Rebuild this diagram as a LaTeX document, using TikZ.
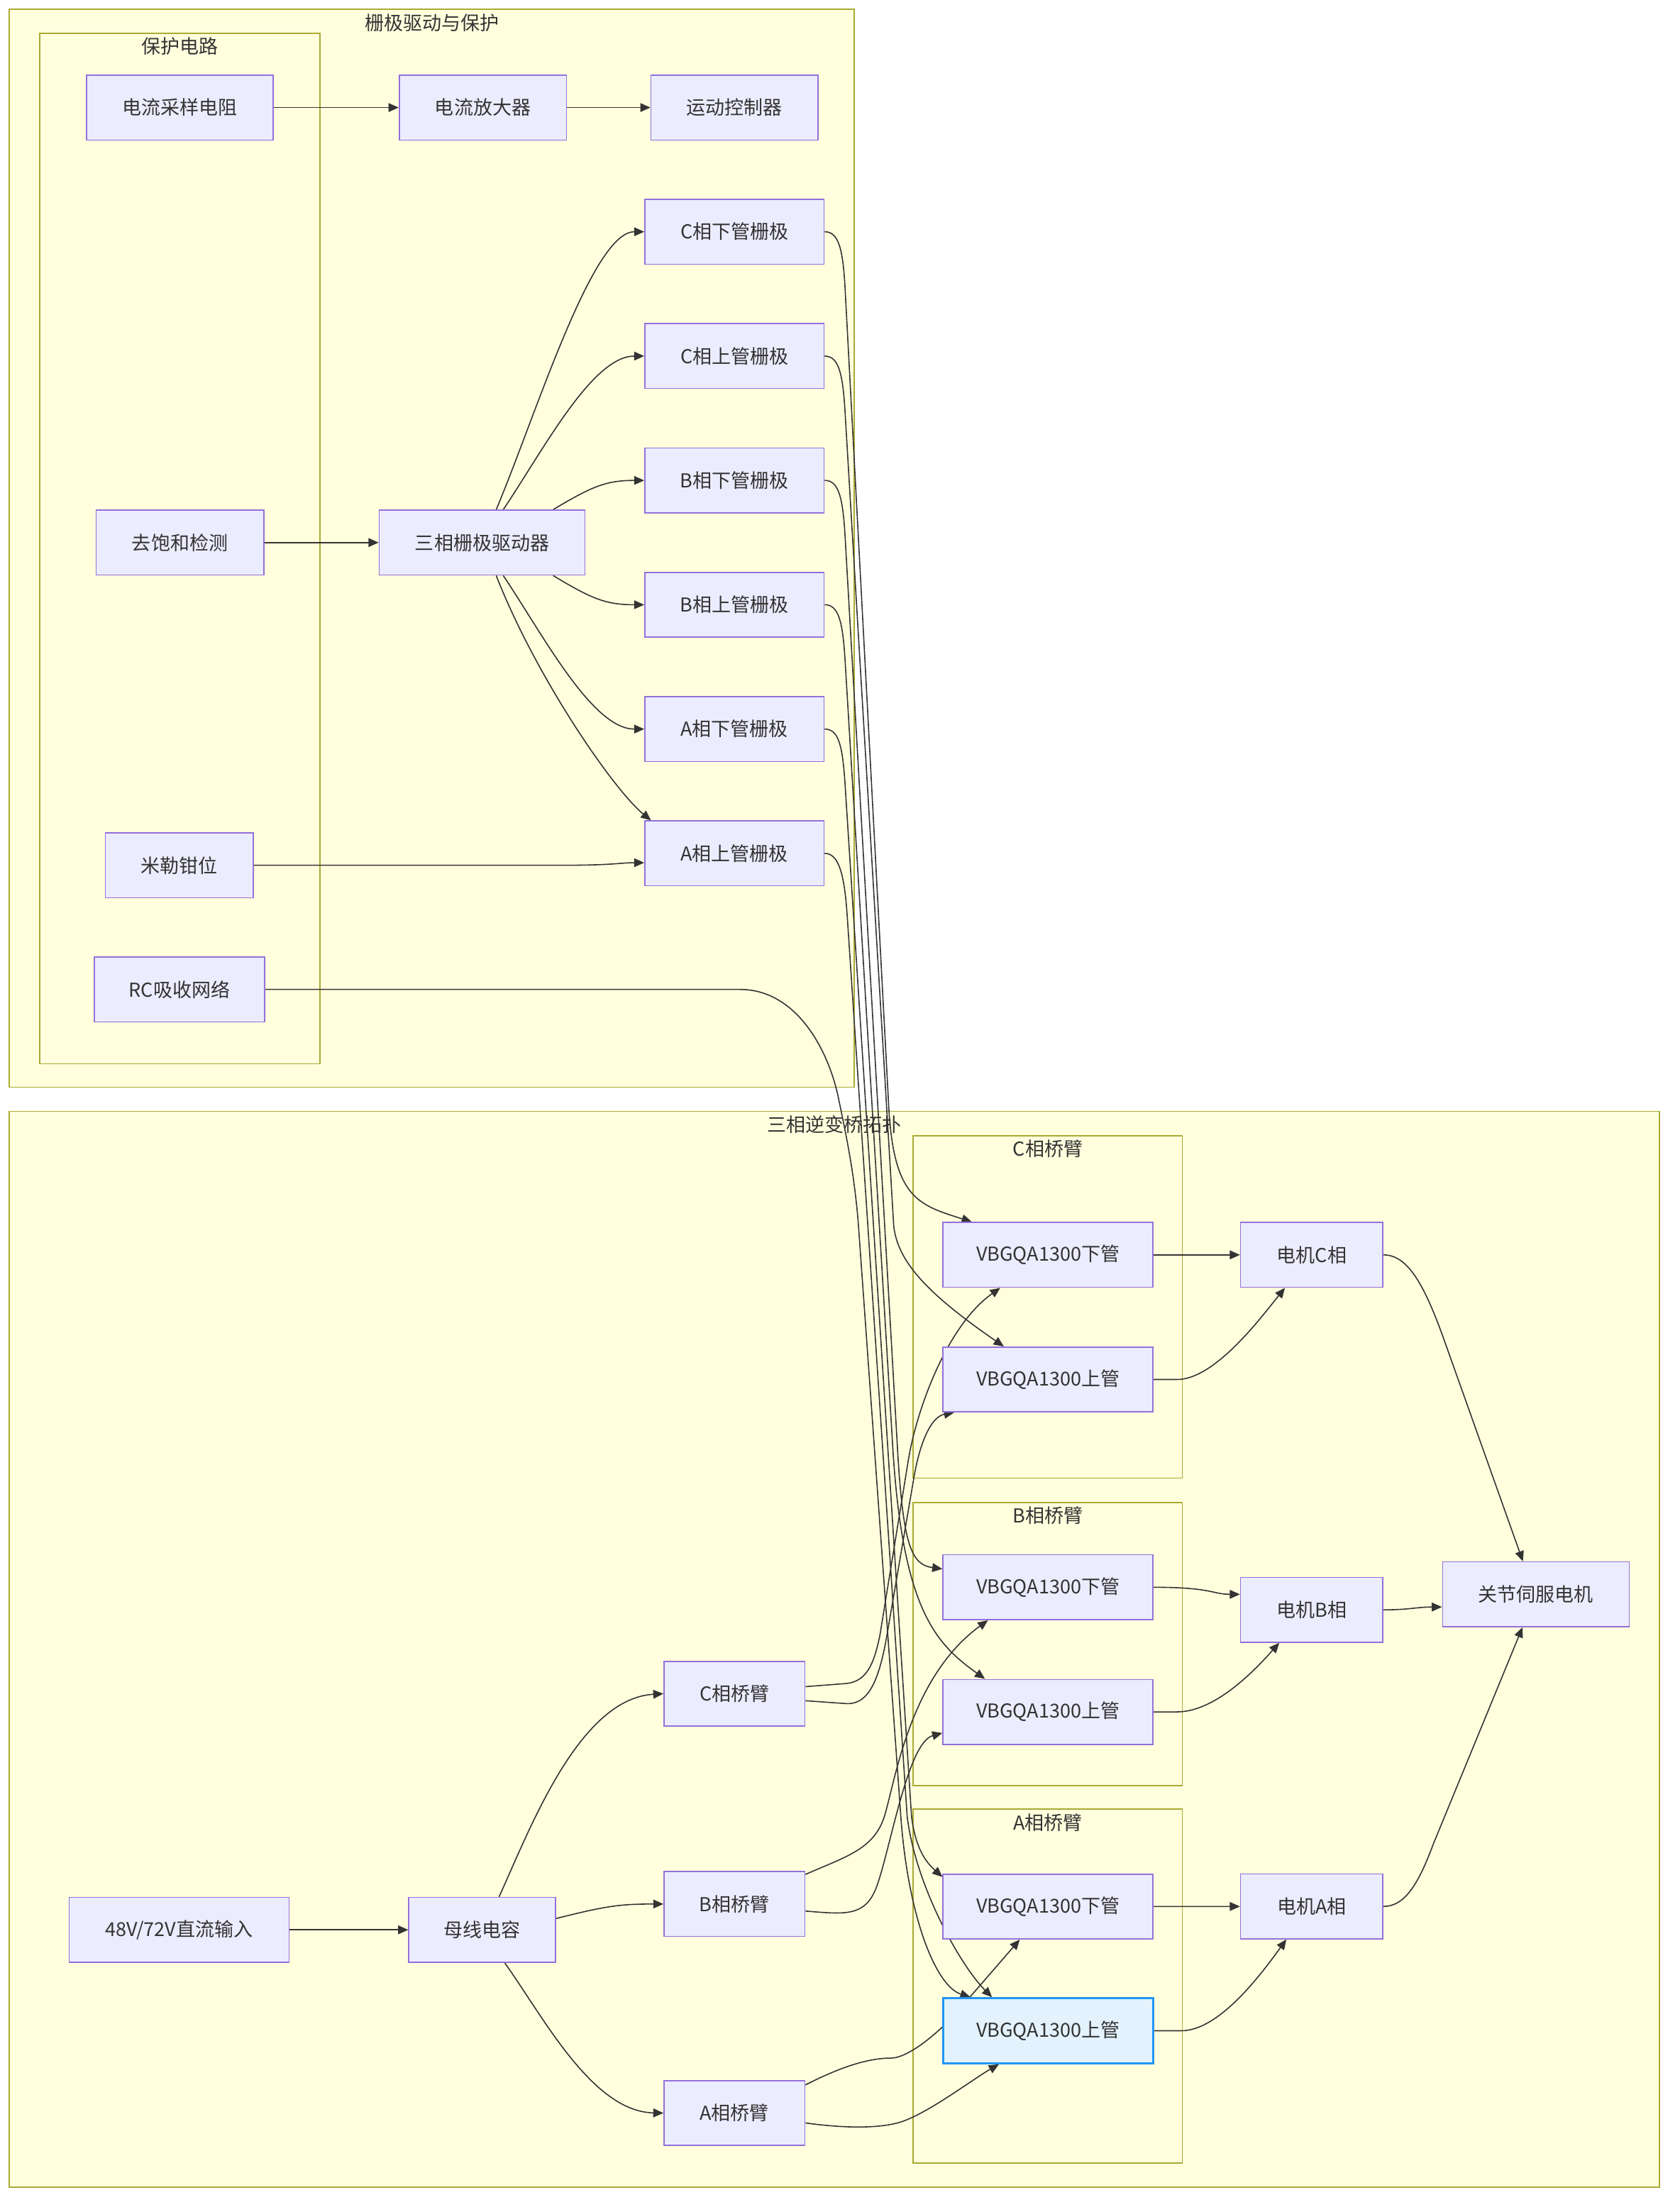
\documentclass[tikz,border=0pt]{standalone}
\usepackage{fontspec}
\setmainfont{Noto Sans CJK SC}
\usetikzlibrary{arrows.meta,calc}
\definecolor{nodeFill}{HTML}{ECECFF}
\definecolor{nodeStroke}{HTML}{9370DB}
\definecolor{clFill}{HTML}{FFFFDE}
\definecolor{clStroke}{HTML}{AAAA33}
\definecolor{edgeCol}{HTML}{333333}
\definecolor{txtCol}{HTML}{333333}
\definecolor{hlFill}{HTML}{E3F2FD}
\definecolor{hlStroke}{HTML}{2196F3}
\pgfdeclarelayer{bg}
\pgfdeclarelayer{edges}
\pgfsetlayers{bg,edges,main}
\newcommand\nfont{\fontsize{13.6pt}{16pt}\selectfont}
\tikzset{
  box/.style={draw=nodeStroke, fill=nodeFill, line width=0.8pt, minimum height=46pt, inner sep=0pt, text=txtCol, font=\nfont},
  hlbox/.style={box, draw=hlStroke, fill=hlFill, line width=1.6pt},
  cluster/.style={draw=clStroke, fill=clFill, line width=0.9pt},
  ctitle/.style={text=txtCol, font=\nfont, inner sep=0pt},
  edge/.style={draw=edgeCol, line width=0.8pt, -{Triangle[length=7.2pt,width=6.2pt]}}
}
\begin{document}
\begin{tikzpicture}[x=1pt,y=-1pt]
\useasboundingbox (0,0) rectangle (1191.7,1569.2);

% ---------- nodes ----------
\node[box, minimum width=132.4pt] (cs) at (127.7,76.3) {电流采样电阻};
\node[box, minimum width=118.6pt] (ca) at (342.5,76.3) {电流放大器};
\node[box, minimum width=118.6pt] (mc) at (521.1,76.3) {运动控制器};
\node[box, minimum width=127.2pt] (cl) at (521,164.4) {C相下管栅极};
\node[box, minimum width=127.2pt] (cu) at (521,252.6) {C相上管栅极};
\node[box, minimum width=127.2pt] (bl) at (521,340.8) {B相下管栅极};
\node[box, minimum width=127.2pt] (bu) at (521,429) {B相上管栅极};
\node[box, minimum width=127.2pt] (al) at (521,517.2) {A相下管栅极};
\node[box, minimum width=127.2pt] (au) at (521,605.4) {A相上管栅极};
\node[box, minimum width=119pt] (ds) at (127.6,384.9) {去饱和检测};
\node[box, minimum width=146pt] (gd) at (342,384.9) {三相栅极驱动器};
\node[box, minimum width=105pt] (mil) at (127.3,613.8) {米勒钳位};
\node[box, minimum width=121pt] (rc) at (127.3,701.9) {RC吸收网络};

\node[box, minimum width=149pt] (Cl) at (743.4,890.2) {VBGQA1300下管};
\node[box, minimum width=149pt] (Cu) at (743.4,978.6) {VBGQA1300上管};
\node[box, minimum width=149pt] (Bl) at (743.4,1126) {VBGQA1300下管};
\node[box, minimum width=149pt] (Bu) at (743.4,1214.4) {VBGQA1300上管};
\node[box, minimum width=149pt] (Al) at (743.4,1352.5) {VBGQA1300下管};
\node[hlbox, minimum width=149pt] (Au) at (743.4,1440.6) {VBGQA1300上管};
\node[box, minimum width=101pt] (mC) at (930.5,890.2) {电机C相};
\node[box, minimum width=101pt] (mB) at (930.5,1142) {电机B相};
\node[box, minimum width=101pt] (mA) at (930.5,1352.4) {电机A相};
\node[box, minimum width=132.4pt] (jm) at (1089.5,1131) {关节伺服电机};
\node[box, minimum width=100pt] (Carm) at (521,1201.5) {C相桥臂};
\node[box, minimum width=100pt] (Barm) at (521,1350.7) {B相桥臂};
\node[box, minimum width=100pt] (Aarm) at (521,1499) {A相桥臂};
\node[box, minimum width=156pt] (dc) at (127,1369) {48V/72V直流输入};
\node[box, minimum width=104pt] (bus) at (342,1369) {母线电容};

% ---------- clusters ----------
\begin{pgfonlayer}{bg}
\fill[white] (0,0) rectangle (1191.7,1569.2);
\draw[cluster] (6.7,6.7) rectangle (605.8,771.3);
\node[ctitle] (t1) at (306.3,16.2) {栅极驱动与保护};
\draw[cluster] (28.2,23.5) rectangle (227,754.6);
\node[ctitle] (t2) at (127.6,33) {保护电路};
\draw[cluster] (6.7,788.4) rectangle (1177,1551.4);
\node[ctitle] (t3) at (592,797.8) {三相逆变桥拓扑};
\draw[cluster] (647.9,805.6) rectangle (838.7,1048.6);
\node[ctitle] (t4) at (743.4,815) {C相桥臂};
\draw[cluster] (647.9,1065.8) rectangle (838.7,1266.6);
\node[ctitle] (t5) at (743.4,1075.3) {B相桥臂};
\draw[cluster] (647.9,1283.3) rectangle (838.7,1534.6);
\node[ctitle] (t6) at (743.4,1292.8) {A相桥臂};
\end{pgfonlayer}

% ---------- edges ----------
\begin{pgfonlayer}{edges}
\draw[edge] (cs) -- (ca);
\draw[edge] (ca) -- (mc);
\draw[edge] (ds) -- (gd);
\draw[edge] (dc) -- (bus);
\draw[edge] (Cl) -- (mC);
\draw[edge] (Al) -- (mA);

% driver fan-out
\draw[edge] ($(gd.north)+(10,0)$) .. controls (380,295) and (420,164.4) .. (cl.west);
\draw[edge] ($(gd.north)+(15,0)$) .. controls (385,320) and (420,252.6) .. (cu.west);
\draw[edge] ($(gd.north east)+(-23,0)$) .. controls (420,345) and (430,340.8) .. (bl.west);
\draw[edge] ($(gd.south east)+(-23,0)$) .. controls (420,425) and (430,429) .. (bu.west);
\draw[edge] ($(gd.south)+(15,0)$) .. controls (385,450) and (420,517.2) .. (al.west);
\draw[edge] ($(gd.south)+(10,0)$) .. controls (380,480) and (435,560) .. ($(au.north west)+(4.8,0)$);
\draw[edge] (mil.east) -- (400,613.8) .. controls (435,613.8) and (440,612) .. ($(au.west)+(0,6.6)$);

% RC network to A upper switch
\draw[edge] (rc.east) -- (525,701.9) .. controls (565,701.9) and (588,745) .. (595,780)
  .. controls (599,800) and (606,830) .. (609,870) -- (639,1288.4)
  .. controls +(5,70) and +(-25,-8) .. ($(Au.north)+(-55,0)$);

% gate signals to switches
\draw[edge] (cl.east) .. controls +(10,0) and +(-1.5,-28) .. (599.5,205) -- (630.6,788)
  .. controls +(4,62) and +(-38,-12) .. ($(Cl.north)+(-54,0)$);
\draw[edge] (cu.east) .. controls +(10,0) and +(-1.6,-28) .. (599.5,293) -- (634,870)
  .. controls +(3,25) and +(-55,-38) .. ($(Cu.north)+(-31.3,0)$);
\draw[edge] (bl.east) .. controls +(10,0) and +(-1.6,-28) .. (599.5,381) -- (636.6,1026.7)
  .. controls +(4,70) and +(-22,-3) .. ($(Bl.west)+(0,-13)$);
\draw[edge] (bu.east) .. controls +(10,0) and +(-1.7,-28) .. (599.5,469) -- (633.3,1026.7)
  .. controls +(7,115) and +(-35,-25) .. ($(Bu.north)+(-44.7,0)$);
\draw[edge] (al.east) .. controls +(10,0) and +(-1.8,-28) .. (599.5,557) -- (646.6,1288.4)
  .. controls +(3,25) and +(-10,-9) .. ($(Al.west)+(0,-21)$);
\draw[edge] (au.east) .. controls +(10,0) and +(-2,-30) .. (601,650) -- (643.5,1288.4)
  .. controls +(6,50) and +(-22,-22) .. ($(Au.north)+(-39.7,0)$);

% bus capacitor to arms
\draw[edge] ($(bus.north)+(12,0)$) .. controls (375,1300) and (410,1205) .. (Carm.west);
\draw[edge] ($(bus.east)+(0,-8)$) .. controls (430,1352) and (440,1350.7) .. (Barm.west);
\draw[edge] ($(bus.south)+(16,0)$) .. controls (385,1430) and (420,1498) .. (Aarm.west);

% arms to switches
\draw[edge] ($(Carm.east)+(0,-5)$) -- (600,1194.3) .. controls (615,1193) and (620,1180) .. (624.1,1160.5)
  -- (644.2,1036.7) .. controls (650,1000) and (672,940) .. ($(Cl.south)+(-33.8,0)$);
\draw[edge] ($(Carm.east)+(0,5)$) -- (600,1208.5) .. controls (615,1209.5) and (623,1195) .. (629,1161)
  -- (648,1050) .. controls (652,1025) and (660,1005) .. ($(Cu.south)+(-66.5,0)$);
\draw[edge] ($(Barm.east)+(0,-21)$) .. controls (600,1317) and (620,1312) .. (627.4,1288.4)
  .. controls (635,1264) and (645,1190) .. ($(Bl.south)+(-42.6,0)$);
\draw[edge] ($(Barm.east)+(0,5)$) .. controls (600,1358) and (614,1360) .. (622,1338)
  .. controls (632,1310) and (644,1236) .. ($(Bu.west)+(0,15)$);
\draw[edge] ($(Aarm.east)+(0,-20)$) .. controls (595,1467) and (615,1460) .. (632,1460)
  .. controls (645,1460) and (668,1440) .. (680,1426) -- ($(Al.south)+(-20,0)$);
\draw[edge] ($(Aarm.east)+(0,7)$) .. controls (600,1510) and (625,1510) .. (640,1505)
  .. controls (660,1498) and (690,1475) .. ($(Au.south)+(-34.8,0)$);

% switches to motor phases
\draw[edge] (Cu.east) -- (835,978.6) .. controls (862,978.6) and (895,934) .. ($(mC.south)+(-19,0)$);
\draw[edge] (Bl.east) .. controls (860,1126) and (860,1131) .. ($(mB.west)+(0,-11)$);
\draw[edge] (Bu.east) -- (835,1214.4) .. controls (862,1214.4) and (890,1185) .. ($(mB.south)+(-23,0)$);
\draw[edge] (Au.east) -- (838,1440.6) .. controls (865,1440.6) and (895,1400) .. ($(mA.south)+(-18,0)$);

% motor phases to servo motor
\draw[edge] (mC.east) .. controls (1000,890.2) and (1012,915) .. (1026.6,956.7) -- ($(jm.north)+(-9.2,0)$);
\draw[edge] (mB.east) .. controls (1000,1142) and (1005,1140) .. ($(jm.west)+(0,9)$);
\draw[edge] (mA.east) .. controls (995,1352.4) and (1005,1340) .. (1016.6,1308.5) -- ($(jm.south)+(-9.5,0)$);
\end{pgfonlayer}
\end{tikzpicture}
\end{document}
